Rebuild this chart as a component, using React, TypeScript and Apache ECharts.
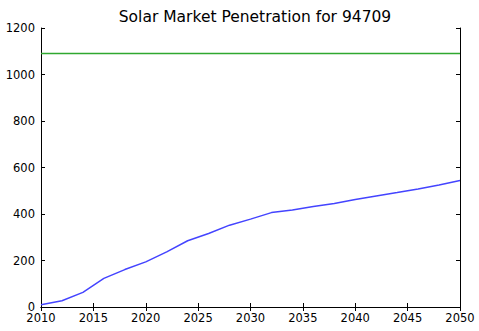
import React, { useEffect, useRef } from "react";
import * as echarts from "echarts";

const title = "Solar Market Penetration for 94709";
const years = [2010, 2012, 2014, 2016, 2018, 2020, 2022, 2024, 2026, 2028, 2030, 2032, 2034, 2036, 2038, 2040, 2042, 2044, 2046, 2048, 2050];
const penetration = [10, 27, 63, 123, 161, 194, 237, 285, 316, 352, 378, 406, 417, 432, 445, 462, 477, 492, 508, 525, 544];
const capacityYears = [2010, 2050];
const capacity = [1090, 1090];

export default function App() {
  const ref = useRef<HTMLDivElement>(null);
  useEffect(() => {
    document.body.style.margin = "0";
    const chart = echarts.init(ref.current!, null, { renderer: "svg" });
    const font = "DejaVu Sans";
    const axisLine = { show: true, lineStyle: { color: "#000", width: 1 } };
    const tick = { show: true, inside: true, length: 4, lineStyle: { color: "#000", width: 1 } };
    const fmt = (v: number) => String(v);
    chart.setOption({
      animation: false,
      backgroundColor: "#fff",
      title: {
        text: title,
        left: 250,
        textAlign: "center",
        top: 4,
        textStyle: { fontFamily: font, fontSize: 15.5, fontWeight: "normal", color: "#000" },
      },
      grid: { left: 41, top: 28, right: 19, bottom: 24, containLabel: false },
      xAxis: [
        {
          type: "value", min: 2010, max: 2050, interval: 5, position: "bottom",
          axisLine, axisTick: tick, splitLine: { show: false },
          axisLabel: { fontFamily: font, fontSize: 11.5, lineHeight: 11, color: "#000", margin: 5, formatter: fmt },
        },
        {
          type: "value", min: 2010, max: 2050, interval: 5, position: "top",
          axisLine, axisTick: tick, splitLine: { show: false }, axisLabel: { show: false },
        },
      ],
      yAxis: [
        {
          type: "value", min: 0, max: 1200, interval: 200, position: "left",
          axisLine, axisTick: tick, splitLine: { show: false },
          axisLabel: { fontFamily: font, fontSize: 11.5, lineHeight: 9, color: "#000", margin: 6, formatter: fmt },
        },
        {
          type: "value", min: 0, max: 1200, interval: 200, position: "right",
          axisLine, axisTick: tick, splitLine: { show: false }, axisLabel: { show: false },
        },
      ],
      series: [
        {
          type: "line",
          data: years.map((y, i) => [y, penetration[i]]),
          showSymbol: false,
          lineStyle: { color: "#4444ff", width: 1.5 },
          itemStyle: { color: "#4444ff" },
        },
        {
          type: "line",
          data: capacityYears.map((y, i) => [y, capacity[i]]),
          showSymbol: false,
          lineStyle: { color: "#30a830", width: 1.5 },
          itemStyle: { color: "#30a830" },
        },
      ],
    });
    return () => chart.dispose();
  }, []);
  return <div ref={ref} style={{ position: "fixed", left: 0, top: 0, width: 479, height: 331 }} />;
}
